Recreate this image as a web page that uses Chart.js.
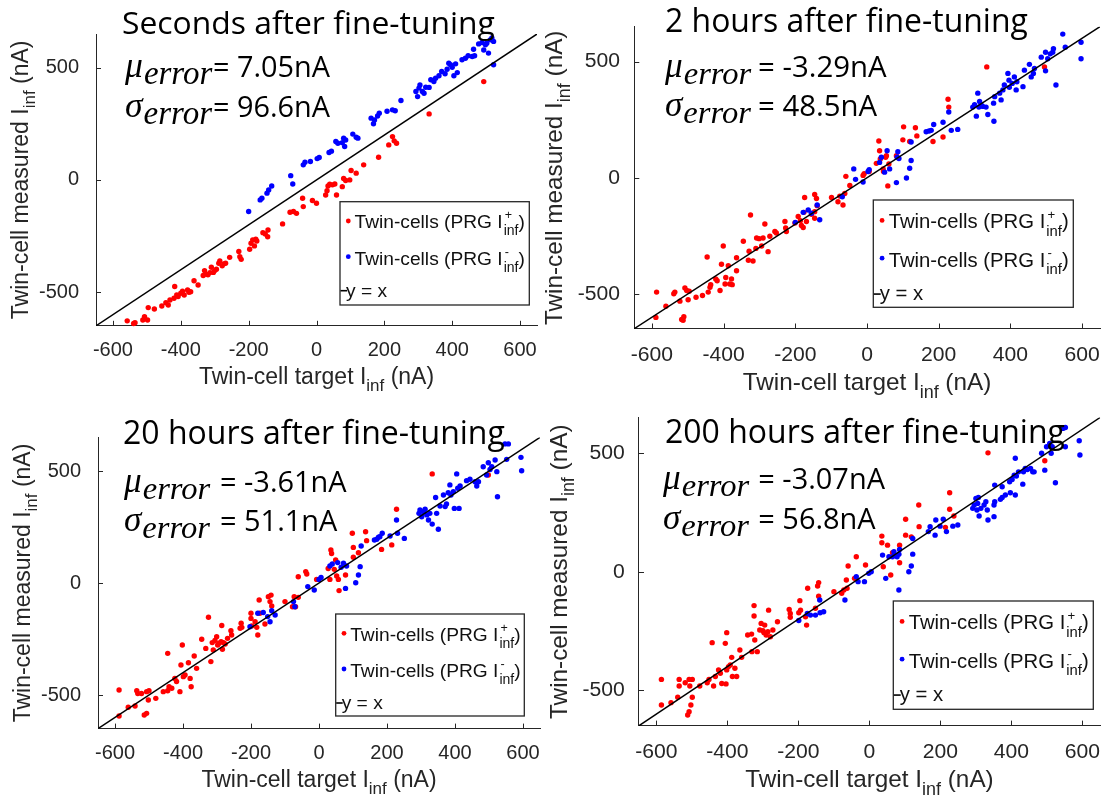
<!DOCTYPE html>
<html><head><meta charset="utf-8">
<script src="https://cdn.jsdelivr.net/npm/chart.js@4.4.1/dist/chart.umd.min.js"></script>
<style>
html,body{margin:0;padding:0;background:#fff;}
#wrap{position:relative;width:1114px;height:803px;overflow:hidden;background:#fff;}
#wrap canvas{position:absolute;left:0;top:0;}
</style></head><body>
<div id="wrap">
<canvas id="c0" width="1114" height="803"></canvas>
<canvas id="c1" width="1114" height="803"></canvas>
<canvas id="c2" width="1114" height="803"></canvas>
<canvas id="c3" width="1114" height="803"></canvas>
</div>
<script>
// ---------------- data ----------------
const xTickValues = [-600, -400, -200, 0, 200, 400, 600];
const yTickValues = [-500, 0, 500];
const axisRange = [-650, 650];
const identityLine = [-650, 650];

const panelTitles = ['Seconds after fine-tuning', '2 hours after fine-tuning', '20 hours after fine-tuning', '200 hours after fine-tuning'];
const muValues = ['7.05', '-3.29', '-3.61', '-3.07'];
const sigmaValues = ['96.6', '48.5', '51.1', '56.8'];
const seriesLabels = ['Twin-cells (PRG I+inf)', 'Twin-cells (PRG I-inf)', 'y = x'];

// Seconds after fine-tuning
const secPlusX = [-558,-539,-535,-512,-507,-498,-496,-478,-456,-444,-437,-432,-418,-420,-412,-408,-400,-395,-390,-380,-376,-371,-361,-349,-334,-330,-327,-320,-314,-310,-304,-300,-295,-288,-285,-278,-273,-268,-256,-229,-226,-222,-197,-193,-188,-183,-179,-176,-158,-151,-144,-143,-100,-78,-68,-59,-41,-39,-12,0,27,31,34,39,47,54,59,76,80,86,98,102,117,139,183,213,224,229,236,332,493];
const secPlusY = [-628,-640,-636,-624,-609,-624,-569,-575,-562,-547,-557,-535,-475,-527,-513,-520,-505,-496,-513,-490,-501,-498,-449,-468,-426,-404,-419,-423,-413,-389,-412,-404,-398,-371,-361,-383,-374,-371,-345,-319,-342,-354,-309,-282,-267,-294,-264,-272,-235,-241,-253,-223,-196,-144,-141,-149,-82,-119,-92,-104,-67,-48,-27,-19,-22,-18,-67,-30,6,-3,0,42,30,67,101,156,193,174,163,294,438];
const secMinusX = [-200,-166,-161,-146,-141,-132,-76,-70,-39,-34,-18,2,8,37,44,57,63,76,80,83,86,107,117,122,161,171,168,180,185,208,224,232,249,293,298,302,305,312,317,322,332,337,346,351,361,369,379,385,390,395,400,405,410,415,429,439,447,459,463,466,478,488,493,498,502,507,512,517,522,522];
const secMinusY = [-141,-89,-82,-59,-45,-27,19,-18,67,79,82,95,100,122,128,171,163,166,186,149,178,204,190,186,275,267,250,285,297,306,312,308,354,394,371,409,423,394,386,413,412,446,438,453,464,483,473,493,520,513,502,464,517,478,535,542,553,550,582,553,606,612,579,602,609,565,624,632,617,513];

// 2 hours after fine-tuning
const h2PlusX = [-587,-589,-561,-539,-536,-522,-517,-513,-511,-508,-503,-499,-496,-477,-459,-443,-438,-436,-446,-422,-418,-410,-406,-401,-396,-394,-387,-383,-378,-376,-364,-364,-345,-331,-329,-325,-318,-310,-308,-301,-294,-290,-285,-276,-271,-257,-253,-229,-227,-225,-201,-192,-186,-183,-178,-176,-174,-169,-155,-146,-146,-141,-139,-146,-99,-81,-76,-67,-62,-59,-48,-11,-8,6,26,33,35,37,45,46,52,54,58,61,82,100,102,119,135,139,184,212,226,228,334,495];
const h2PlusY = [-492,-601,-553,-499,-492,-531,-610,-613,-598,-474,-485,-525,-488,-514,-507,-492,-471,-460,-341,-436,-443,-485,-372,-294,-457,-429,-379,-457,-436,-460,-400,-344,-273,-355,-316,-160,-358,-304,-259,-262,-294,-259,-199,-318,-252,-231,-238,-188,-216,-231,-195,-167,-185,-205,-214,-149,-85,-188,-157,-174,-72,-89,-120,-146,-85,-103,-79,-117,-68,6,-33,10,17,27,62,158,116,81,38,27,88,95,-35,59,95,163,219,156,215,180,156,175,338,304,477,477];
const h2MinusX = [-200,-178,-164,-155,-139,-132,-69,-37,-32,-11,3,6,35,40,56,49,63,82,84,86,89,110,119,123,123,165,173,179,186,212,228,235,253,295,300,305,309,312,314,318,323,332,337,354,353,356,370,374,379,383,393,396,397,405,411,416,418,435,439,453,458,464,467,486,498,498,504,511,518,520,527,546,553,597,597];
const h2MinusY = [-192,-149,-139,-153,-117,-181,-82,38,-7,-18,27,35,66,88,116,24,38,-21,88,112,83,-1,41,74,154,198,201,204,229,239,283,204,208,304,314,265,364,304,328,314,307,304,272,243,321,349,364,335,378,399,449,420,389,406,434,378,413,392,463,488,434,449,470,519,540,460,512,533,540,555,399,618,562,583,512];

// 20 hours after fine-tuning
const h20PlusX = [-588,-588,-561,-541,-536,-533,-522,-514,-507,-507,-502,-500,-480,-458,-445,-445,-441,-433,-424,-419,-409,-406,-402,-399,-394,-384,-379,-376,-367,-360,-345,-333,-325,-318,-314,-311,-306,-301,-298,-294,-288,-286,-284,-281,-276,-269,-259,-257,-232,-229,-227,-200,-200,-198,-188,-183,-180,-176,-174,-159,-149,-144,-141,-139,-100,-78,-73,-69,-61,-61,-39,-36,-7,27,32,35,37,45,49,52,57,59,78,98,101,101,116,137,140,184,214,228,333,498];
const h20PlusY = [-478,-594,-555,-549,-481,-493,-493,-589,-582,-485,-522,-481,-515,-485,-314,-481,-463,-470,-426,-440,-485,-366,-277,-418,-411,-356,-426,-463,-326,-381,-251,-292,-153,-351,-266,-299,-257,-240,-277,-269,-262,-190,-296,-266,-272,-247,-213,-232,-202,-180,-198,-135,-158,-192,-173,-198,-232,-76,-135,-183,-61,-83,-54,-103,-83,-106,-61,-106,-64,28,51,40,16,65,16,147,132,61,103,31,16,-34,36,222,159,115,135,229,189,150,170,329,487,482];
const h20MinusX = [-203,-180,-164,-151,-144,-139,-129,-75,-71,-33,-14,0,6,32,39,55,65,72,81,78,108,116,121,124,163,170,175,179,186,209,228,231,251,294,297,302,307,312,317,322,326,333,343,346,351,356,366,371,375,380,385,388,395,398,405,408,412,415,434,444,459,464,469,483,493,498,503,508,518,523,525,547,552,557,594,596];
const h20MinusY = [-195,-135,-132,-150,-173,-124,-143,-83,-106,-16,-31,16,25,76,85,91,70,88,76,-24,1,36,73,165,192,195,204,207,222,210,281,222,199,311,326,296,318,329,304,281,311,263,382,311,240,344,393,341,353,403,438,393,408,333,487,423,333,433,457,463,452,433,452,519,482,537,507,519,549,497,385,621,552,621,561,501];

// 200 hours after fine-tuning
const h200PlusX = [-586,-586,-559,-540,-536,-536,-519,-512,-508,-508,-506,-503,-499,-499,-478,-457,-452,-443,-439,-434,-425,-420,-416,-406,-404,-402,-402,-397,-392,-388,-386,-379,-374,-365,-360,-343,-332,-331,-325,-325,-323,-316,-309,-305,-300,-297,-295,-291,-286,-284,-279,-272,-259,-226,-223,-223,-199,-196,-194,-180,-177,-174,-152,-146,-143,-143,-100,-78,-72,-63,-65,-60,-42,-37,-11,35,35,39,51,60,65,85,85,102,102,118,139,140,214,226,226,238,334,494];
const h200PlusY = [-454,-562,-552,-529,-454,-482,-468,-604,-590,-454,-482,-562,-529,-454,-482,-468,-454,-299,-482,-442,-414,-428,-471,-302,-473,-414,-257,-400,-393,-361,-442,-407,-442,-330,-361,-267,-263,-337,-143,-187,-288,-337,-246,-218,-249,-257,-225,-267,-253,-162,-274,-246,-211,-159,-176,-192,-173,-122,-162,-190,-225,-70,-154,-60,-46,-103,-84,-91,-77,-70,-35,24,-28,63,28,122,150,21,112,-14,80,112,38,154,221,147,281,190,187,333,263,235,501,468];
const h200MinusX = [-199,-175,-166,-152,-140,-139,-129,-69,-37,-32,-14,-2,5,37,46,55,65,69,78,83,83,85,111,118,122,122,166,171,185,187,199,208,217,235,249,291,295,300,303,305,307,309,314,323,328,332,334,351,351,353,353,369,374,374,383,395,397,402,408,411,411,414,420,432,434,439,445,454,460,464,485,494,499,508,512,515,524,545,552,552,591,593];
const h200MinusY = [-206,-176,-183,-183,-119,-173,-169,-119,-21,-42,-42,-7,0,70,-28,63,63,84,63,-77,74,94,0,24,74,140,169,190,154,218,192,221,169,192,197,267,281,309,260,288,313,235,267,281,295,260,218,232,281,295,365,305,313,358,323,379,333,389,407,478,323,403,421,369,421,435,431,435,421,421,499,428,527,541,499,527,375,604,608,527,552,492];

const panelSeries = [
  [secPlusX, secPlusY, secMinusX, secMinusY],
  [h2PlusX, h2PlusY, h2MinusX, h2MinusY],
  [h20PlusX, h20PlusY, h20MinusX, h20MinusY],
  [h200PlusX, h200PlusY, h200MinusX, h200MinusY]
];

// ---------------- layout / style ----------------
const W = 1114, H = 803;
const AXIS = '#262626';
const RED = '#ff0000', BLUE = '#0000ff';
const SANS = '"Liberation Sans", Arial, sans-serif';
const TEXTF = '"Open Sans", sans-serif';
const MATHF = '"Liberation Serif", serif';

const layouts = [
  {plot:[96,34,537,325.8], s:1, yPad:17, title:{x:122,y:34,w:373}, stat:{x:125,muY:76.7,sgY:116.7,symW:85,eqX:213,eqW:117,pre:'= '}, legend:[340,201.7,189.3,103.3]},
  {plot:[634,22.6,1100.7,328.8], s:1.057, yPad:14, title:{x:665,y:32,w:363}, stat:{x:665,muY:76.7,sgY:116,symW:84,eqX:758,eqW:128.7,pre:'= '}, legend:[873.3,200,200,107.3]},
  {plot:[98,437.4,540,728.6], s:1, yPad:17, title:{x:123,y:444,w:382}, stat:{x:124,muY:491.7,sgY:530.7,symW:84,eqX:220,eqW:126.7,pre:'= '}, legend:[335.7,614,188.6,102]},
  {plot:[638.7,417.5,1107.9,725.9], s:1.057, yPad:14, title:{x:665,y:443.3,w:400}, stat:{x:663,muY:489.3,sgY:529,symW:84,eqX:758.3,eqW:126.7,pre:'= '}, legend:[893.3,601,200,108.3]}
];

function fit(ctx, text, family, style, target) {
  ctx.font = style + ' 100px ' + family;
  return 100 * target / ctx.measureText(text).width;
}
function runs(ctx, list, x, y, center) {
  let w = 0;
  list.forEach(r => { ctx.font = r.f; r.w = ctx.measureText(r.t).width; w += r.w; });
  let cx = center ? x - w / 2 : x;
  list.forEach(r => { ctx.font = r.f; ctx.fillText(r.t, cx, y + (r.dy || 0)); cx += r.w; });
  return w;
}

const decorPlugin = {
  id: 'decor',
  afterDraw(chart, args, o) {
    const ctx = chart.ctx, ca = chart.chartArea, s = o.s, L = o.lay;
    const xs = chart.scales.x, ys = chart.scales.y;
    ctx.save();
    ctx.textAlign = 'left'; ctx.textBaseline = 'alphabetic';
    // inward ticks
    ctx.strokeStyle = AXIS; ctx.lineWidth = 1;
    ctx.beginPath();
    xs.ticks.forEach(t => { const p = Math.round(xs.getPixelForValue(t.value)) + 0.5; ctx.moveTo(p, ca.bottom); ctx.lineTo(p, ca.bottom - 5 * s); });
    ys.ticks.forEach(t => { const p = Math.round(ys.getPixelForValue(t.value)) + 0.5; ctx.moveTo(ca.left, p); ctx.lineTo(ca.left + 5 * s, p); });
    ctx.stroke();

    // axis titles
    ctx.fillStyle = AXIS;
    const fT = (23 * s) + 'px ' + SANS, fS = (17 * s) + 'px ' + SANS;
    runs(ctx, [{t:'Twin-cell target I', f:fT}, {t:'inf', f:fS, dy:7 * s}, {t:' (nA)', f:fT}], (ca.left + ca.right) / 2, ca.bottom + 58 * s, true);
    ctx.save();
    ctx.translate(ca.left - 68 * s, (ca.top + ca.bottom) / 2);
    ctx.rotate(-Math.PI / 2);
    runs(ctx, [{t:'Twin-cell measured I', f:fT}, {t:'inf', f:fS, dy:7 * s}, {t:' (nA)', f:fT}], 0, 0, true);
    ctx.restore();

    // panel title
    ctx.fillStyle = '#000';
    const ts = fit(ctx, o.title, TEXTF, 'normal', L.title.w);
    ctx.font = ts + 'px ' + TEXTF;
    ctx.fillText(o.title, L.title.x, L.title.y);

    // statistics
    const st = L.stat;
    const ms = fit(ctx, '\u03BCerror', MATHF, 'italic', st.symW);
    const eqMu = st.pre + o.mu + 'nA', eqSg = st.pre + o.sigma + 'nA';
    const es = fit(ctx, eqMu, TEXTF, 'normal', st.eqW);
    [['\u03BC', st.muY, eqMu], ['\u03C3', st.sgY, eqSg]].forEach(([sym, y, eq]) => {
      ctx.font = 'italic ' + (ms * 1.08) + 'px ' + MATHF;
      ctx.fillText(sym, st.x, y);
      const sw = ctx.measureText(sym).width;
      ctx.font = 'italic ' + ms + 'px ' + MATHF;
      ctx.fillText('error', st.x + sw + 1, y + 7);
      ctx.font = es + 'px ' + TEXTF;
      ctx.fillText(eq, st.eqX, y);
    });

    // legend
    const [lx, ly, lw, lh] = L.legend;
    ctx.fillStyle = '#fff';
    ctx.fillRect(lx, ly, lw, lh);
    ctx.strokeStyle = AXIS; ctx.lineWidth = 1.3;
    ctx.strokeRect(lx, ly, lw, lh);
    const ds = chart.data.datasets;
    const fL = (19.2 * s) + 'px ' + SANS, fSup = (12.5 * s) + 'px ' + SANS, fSub = (14 * s) + 'px ' + SANS;
    [[0, '+', 19.3, 26.6], [1, '-', 55, 63.3]].forEach(([i, sup, dy, by]) => {
      ctx.fillStyle = ds[i].backgroundColor;
      ctx.beginPath(); ctx.arc(lx + 8.3 * s, ly + dy * s, 2.4, 0, Math.PI * 2); ctx.fill();
      ctx.fillStyle = '#111';
      ctx.font = fL;
      const base = ly + by * s;
      let x = lx + 14.5 * s;
      ctx.fillText('Twin-cells (PRG I', x, base);
      x += ctx.measureText('Twin-cells (PRG I').width + 1 * s;
      ctx.font = fSup; ctx.fillText(sup, x + 1 * s, base - 9 * s);
      const w1 = ctx.measureText(sup).width + 1 * s;
      ctx.font = fSub; ctx.fillText('inf', x, base + 7 * s);
      const w2 = ctx.measureText('inf').width;
      x += Math.max(w1, w2);
      ctx.font = fL; ctx.fillText(')', x, base);
    });
    ctx.strokeStyle = ds[2].borderColor; ctx.lineWidth = 1.6;
    ctx.beginPath(); ctx.moveTo(lx + 0.5, ly + 89 * s); ctx.lineTo(lx + 7 * s, ly + 89 * s); ctx.stroke();
    ctx.fillStyle = '#111'; ctx.font = fL;
    ctx.fillText('y = x', lx + 6 * s, ly + 95 * s);
    ctx.restore();
  }
};

function makePanel(idx) {
  const L = layouts[idx], s = L.s;
  const [px, py, mx, my] = panelSeries[idx];
  const plus = px.map((v, i) => ({x: v, y: py[i]}));
  const minus = mx.map((v, i) => ({x: v, y: my[i]}));
  const ident = identityLine.map(v => ({x: v, y: v}));
  const [l, t, r, b] = L.plot;
  const tickFont = {family: SANS, size: 20 * s};
  return new Chart(document.getElementById('c' + idx), {
    type: 'scatter',
    data: {
      datasets: [
        {label: seriesLabels[0], data: plus, backgroundColor: RED, borderColor: RED, pointRadius: 2.7, pointBorderWidth: 0, order: 2, clip: false},
        {label: seriesLabels[1], data: minus, backgroundColor: BLUE, borderColor: BLUE, pointRadius: 2.7, pointBorderWidth: 0, order: 1, clip: false},
        {type: 'line', label: seriesLabels[2], data: ident, borderColor: '#000', backgroundColor: '#000', borderWidth: 1.5, pointRadius: 0, showLine: true, fill: false, order: 0}
      ]
    },
    options: {
      responsive: false, animation: false, devicePixelRatio: 1,
      layout: {autoPadding: false, padding: {left: 0, top: t, right: W - r, bottom: 0}},
      plugins: {
        legend: {display: false}, tooltip: {enabled: false}, title: {display: false},
        decor: {s: s, lay: L, title: panelTitles[idx], mu: muValues[idx], sigma: sigmaValues[idx]}
      },
      scales: {
        x: {
          type: 'linear', position: 'bottom', min: axisRange[0], max: axisRange[1],
          afterBuildTicks: sc => { sc.ticks = xTickValues.map(v => ({value: v})); },
          afterFit: sc => { sc.height = H - b; },
          grid: {display: false, drawTicks: false},
          border: {display: true, color: AXIS, width: 1},
          ticks: {font: tickFont, color: AXIS, padding: 13 * s, autoSkip: false, maxRotation: 0, minRotation: 0}
        },
        y: {
          type: 'linear', position: 'left', min: axisRange[0], max: axisRange[1],
          afterBuildTicks: sc => { sc.ticks = yTickValues.map(v => ({value: v})); },
          afterFit: sc => { sc.width = l; },
          grid: {display: false, drawTicks: false},
          border: {display: true, color: AXIS, width: 1},
          ticks: {font: tickFont, color: AXIS, padding: L.yPad, autoSkip: false}
        }
      }
    },
    plugins: [decorPlugin]
  });
}
[0, 1, 2, 3].forEach(makePanel);
</script>
</body></html>
